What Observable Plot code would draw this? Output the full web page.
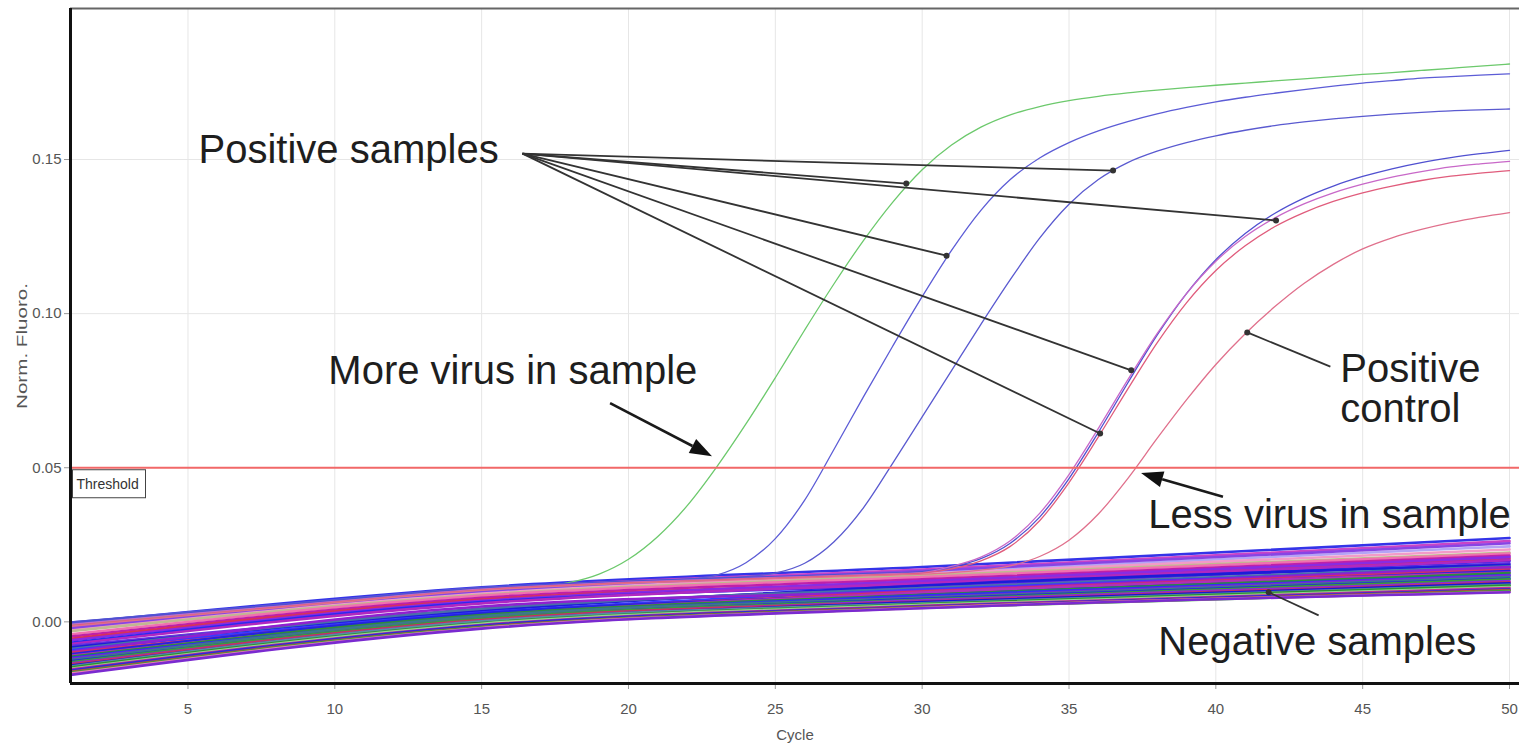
<!DOCTYPE html>
<html><head><meta charset="utf-8">
<script src="https://cdn.jsdelivr.net/npm/d3@7"></script>
<script src="https://cdn.jsdelivr.net/npm/@observablehq/plot@0.6"></script>
<style>
html,body{margin:0;padding:0;background:#fff;}
#chart{width:1519px;height:743px;overflow:hidden;}
</style></head><body><div id="chart"></div>
<script>
// ---------- axis ticks ----------
const xTicks = [5, 10, 15, 20, 25, 30, 35, 40, 45, 50];
const yTicks = [0.00, 0.05, 0.10, 0.15];
const thresholdValue = 0.05;

// ---------- positive samples (values per cycle) ----------
const posCycles = [1,5,10,15,16,17,18,19,20,21,22,23,24,25,26,27,28,29,30,31,32,33,34,35,36,37,38,39,40,41,42,43,44,45,46,47,48,49,50];
const greenSample = [-0.0010,0.0025,0.0068,0.0105,0.0110,0.0116,0.0128,0.0155,0.0203,0.0277,0.0377,0.0502,0.0642,0.0792,0.0947,0.1097,0.1237,0.1362,0.1467,0.1547,0.1605,0.1645,0.1672,0.1691,0.1705,0.1716,0.1725,0.1733,0.1741,0.1748,0.1755,0.1762,0.1769,0.1776,0.1782,0.1789,0.1796,0.1803,0.1810];
const blueSample1 = [0.0000,0.0032,0.0072,0.0112,0.0117,0.0121,0.0125,0.0128,0.0131,0.0134,0.0138,0.0152,0.0192,0.0270,0.0395,0.0560,0.0730,0.0895,0.1055,0.1205,0.1335,0.1435,0.1505,0.1555,0.1593,0.1623,0.1648,0.1669,0.1687,0.1702,0.1715,0.1727,0.1738,0.1748,0.1756,0.1764,0.1769,0.1774,0.1778];
const blueSample2 = [-0.0005,0.0028,0.0070,0.0108,0.0113,0.0118,0.0123,0.0127,0.0131,0.0135,0.0139,0.0143,0.0147,0.0158,0.0190,0.0260,0.0370,0.0515,0.0665,0.0815,0.0965,0.1110,0.1245,0.1355,0.1435,0.1490,0.1527,0.1555,0.1577,0.1595,0.1610,0.1622,0.1632,0.1640,0.1647,0.1653,0.1658,0.1661,0.1664];
const blueSample3 = [0.0000,0.0030,0.0070,0.0110,0.0115,0.0120,0.0124,0.0128,0.0132,0.0135,0.0138,0.0141,0.0144,0.0147,0.0150,0.0153,0.0156,0.0159,0.0163,0.0178,0.0205,0.0255,0.0340,0.0465,0.0615,0.0775,0.0930,0.1065,0.1175,0.1260,0.1325,0.1375,0.1414,0.1445,0.1470,0.1490,0.1506,0.1519,0.1530];
const magentaSample = [-0.0008,0.0026,0.0066,0.0106,0.0112,0.0117,0.0121,0.0125,0.0129,0.0132,0.0135,0.0138,0.0141,0.0144,0.0147,0.0150,0.0153,0.0156,0.0160,0.0180,0.0210,0.0263,0.0352,0.0478,0.0628,0.0785,0.0935,0.1065,0.1170,0.1250,0.1310,0.1356,0.1392,0.1420,0.1443,0.1461,0.1476,0.1486,0.1494];
const redSample = [-0.0012,0.0022,0.0064,0.0104,0.0110,0.0115,0.0119,0.0123,0.0127,0.0130,0.0133,0.0136,0.0139,0.0142,0.0145,0.0148,0.0151,0.0154,0.0158,0.0172,0.0198,0.0245,0.0328,0.0452,0.0600,0.0755,0.0905,0.1035,0.1140,0.1220,0.1282,0.1328,0.1364,0.1392,0.1414,0.1432,0.1446,0.1456,0.1464];
const positiveControl = [-0.0015,0.0020,0.0062,0.0102,0.0108,0.0113,0.0117,0.0121,0.0125,0.0128,0.0131,0.0134,0.0137,0.0140,0.0143,0.0146,0.0149,0.0152,0.0155,0.0160,0.0168,0.0182,0.0212,0.0265,0.0350,0.0465,0.0595,0.0720,0.0835,0.0935,0.1022,0.1098,0.1160,0.1210,0.1246,0.1273,0.1295,0.1313,0.1328];
const positiveNames = ["Sample 1","Sample 2","Sample 3","Sample 4","Sample 5","Sample 6","Positive control"];
const positiveValues = [greenSample, blueSample1, blueSample2, blueSample3, magentaSample, redSample, positiveControl];
const positiveColors = ["#6cc96c","#5c5cd6","#5a5ad0","#5050d0","#c868c8","#e05c7c","#e0708c"];

// ---------- negative samples (values at cycles 1, 15, 30, 50) ----------
const negCycles = [1, 15, 30, 50];
const negAt1  = [-0.0005,-0.0015,-0.0010,-0.0025,-0.0020,-0.0030,-0.0040,-0.0048,-0.0055,-0.0060,-0.0068,-0.0072,-0.0078,-0.0083,-0.0088,-0.0092,-0.0097,-0.0100,-0.0105,-0.0110,-0.0113,-0.0117,-0.0120,-0.0124,-0.0128,-0.0131,-0.0135,-0.0138,-0.0142,-0.0145,-0.0148,-0.0152,-0.0155,-0.0158,-0.0162,-0.0165,-0.0168,-0.0172];
const negAt15 = [0.0112,0.0105,0.0098,0.0092,0.0100,0.0088,0.0085,0.0078,0.0072,0.0068,0.0064,0.0060,0.0040,0.0036,0.0043,0.0030,0.0050,0.0025,0.0028,0.0020,0.0022,0.0016,0.0012,0.0018,0.0008,0.0010,0.0004,0.0006,0.0000,0.0002,-0.0004,-0.0006,-0.0010,-0.0012,-0.0016,-0.0018,-0.0020,-0.0022];
const negAt30 = [0.0178,0.0170,0.0160,0.0155,0.0165,0.0150,0.0145,0.0138,0.0128,0.0132,0.0120,0.0125,0.0115,0.0118,0.0110,0.0105,0.0100,0.0098,0.0092,0.0095,0.0088,0.0085,0.0080,0.0078,0.0075,0.0072,0.0070,0.0066,0.0064,0.0060,0.0058,0.0055,0.0052,0.0050,0.0048,0.0046,0.0045,0.0044];
const negAt50 = [0.0272,0.0262,0.0245,0.0235,0.0255,0.0225,0.0222,0.0215,0.0205,0.0210,0.0198,0.0200,0.0190,0.0185,0.0180,0.0175,0.0178,0.0170,0.0165,0.0160,0.0158,0.0152,0.0150,0.0145,0.0140,0.0138,0.0132,0.0128,0.0125,0.0120,0.0118,0.0113,0.0110,0.0106,0.0103,0.0100,0.0097,0.0096];
const negColors = ["#3434e8","#c844c8","#b4a4f4","#f29ac8","#8844e4","#c0b890",
  "#f070b0","#c020a8","#d83058","#8a2be2","#2a2af0","#b028c0","#6a30e0","#1c1cd8","#4a70a8","#3838ff",
  "#9020d0","#d03068","#2424e0","#b030b8","#2e8b3e","#3030f0","#7a28d8","#3a7a8a","#2020e8","#3c9a3c",
  "#8e2ad6","#c83060","#1818d0","#5a8aa8","#2f8f2f","#90d890","#c02a9a","#2a2ad8","#b05040","#38a038",
  "#f080b0","#7a2ad0"];

// ---------- annotations (anchored in cycle / fluorescence units) ----------
const annotationLabels = ["Positive samples","More virus in sample","Positive\ncontrol","Less virus in sample","Negative samples"];
const annotationCycle = [5.36, 9.78, 44.24, 37.7, 38.04];
const annotationValue = [0.149, 0.0773, 0.0647, 0.0306, -0.0109];

const fanOrigin = {cycle: 16.39, value: 0.1519};
const fanTargetCycle = [36.5, 29.46, 42.05, 30.83, 37.12, 36.06];
const fanTargetValue = [0.1464, 0.1422, 0.1302, 0.1188, 0.0816, 0.0611];

const pointerFromCycle = [43.9, 43.5];
const pointerFromValue = [0.0828, 0.0021];
const pointerToCycle = [41.07, 41.8];
const pointerToValue = [0.0939, 0.0096];

const arrowFromCycle = [19.39, 40.26];
const arrowFromValue = [0.0708, 0.0404];
const arrowToCycle = [22.86, 37.47];
const arrowToValue = [0.0536, 0.0481];

// ---------- build tables ----------
const negRows = [];
negAt1.forEach((_, i) => {
  const vals = [negAt1[i], negAt15[i], negAt30[i], negAt50[i]];
  negCycles.forEach((c, j) => negRows.push({id: i, cycle: c, value: vals[j], color: negColors[i]}));
});
const posRows = positiveNames.map((name, k) => posCycles.map((c, j) => ({name, cycle: c, value: positiveValues[k][j]})));
const annotations = annotationLabels.map((t, i) => ({label: t, cycle: annotationCycle[i], value: annotationValue[i]}));
const fan = fanTargetCycle.map((c, i) => ({x1: fanOrigin.cycle, y1: fanOrigin.value, x2: c, y2: fanTargetValue[i]}));
const pointers = pointerFromCycle.map((c, i) => ({x1: c, y1: pointerFromValue[i], x2: pointerToCycle[i], y2: pointerToValue[i]}));
const bigArrows = arrowFromCycle.map((c, i) => ({x1: c, y1: arrowFromValue[i], x2: arrowToCycle[i], y2: arrowToValue[i]}));

// custom mark: arrows with filled triangular heads
function filledArrows(index, scales) {
  const g = d3.create("svg:g");
  for (const a of bigArrows) {
    const x1 = scales.x(a.x1), y1 = scales.y(a.y1), x2 = scales.x(a.x2), y2 = scales.y(a.y2);
    const ang = Math.atan2(y2 - y1, x2 - x1);
    const L = 22, W = 8;
    const bx = x2 - L * Math.cos(ang), by = y2 - L * Math.sin(ang);
    const px = -Math.sin(ang) * W, py = Math.cos(ang) * W;
    g.append("line").attr("x1", x1).attr("y1", y1).attr("x2", bx).attr("y2", by)
      .attr("stroke", "#1a1a1a").attr("stroke-width", 2.6);
    g.append("path").attr("d", `M${x2},${y2}L${bx + px},${by + py}L${bx - px},${by - py}Z`).attr("fill", "#111");
  }
  return g.node();
}
// custom mark: box of the threshold label
function thresholdBox(index, scales) {
  const x0 = scales.x(1), y0 = scales.y(thresholdValue);
  return d3.create("svg:rect").attr("x", x0 + 2.5).attr("y", y0 + 2.5).attr("width", 73).attr("height", 28)
    .attr("fill", "#fff").attr("stroke", "#444").attr("stroke-width", 1).node();
}

const chart = Plot.plot({
  width: 1519, height: 743,
  marginLeft: 70, marginRight: 0, marginTop: 8, marginBottom: 60,
  style: {fontFamily: "'Liberation Sans', Arial, sans-serif", background: "#fff", color: "#555"},
  x: {domain: [1, 50.34], label: null},
  y: {domain: [-0.02, 0.199], label: null},
  marks: [
    Plot.gridX(xTicks, {stroke: "#e6e6e6", strokeOpacity: 1}),
    Plot.gridY(yTicks.filter(v => v > 0), {stroke: "#e6e6e6", strokeOpacity: 1}),
    Plot.axisX(xTicks, {tickSize: 6, tickPadding: 14, stroke: "#9a9a9a", fill: "#555", fontSize: 15, tickFormat: d => String(d), label: null}),
    Plot.axisY(yTicks, {tickSize: 6, tickPadding: 3, stroke: "#9a9a9a", fill: "#555", fontSize: 15, tickFormat: d3.format(".2f"), label: null}),
    Plot.text(["Cycle"], {frameAnchor: "bottom", dy: 56, lineAnchor: "bottom", fontSize: 15, fill: "#555"}),
    Plot.text(["Norm. Fluoro."], {frameAnchor: "left", dx: -48, rotate: -90, textAnchor: "middle", fontSize: 15, fill: "#555"}),
    // negative samples band
    Plot.line(negRows, {x: "cycle", y: "value", z: "id", stroke: "color", strokeWidth: 2.6, curve: "monotone-x"}),
    // positive samples
    ...posRows.map((rows, k) => Plot.line(rows, {x: "cycle", y: "value", stroke: positiveColors[k], strokeWidth: 1.3, curve: "monotone-x"})),
    // threshold
    Plot.ruleY([thresholdValue], {stroke: "#f26868", strokeWidth: 2.2}),
    thresholdBox,
    Plot.text(["Threshold"], {x: 1, y: thresholdValue, dx: 6, dy: 17, textAnchor: "start", fontSize: 14, fill: "#333"}),
    // frame
    Plot.ruleY([0.199], {stroke: "#666", strokeWidth: 2}),
    Plot.ruleX([1], {stroke: "#111", strokeWidth: 3}),
    Plot.ruleY([-0.02], {stroke: "#111", strokeWidth: 3}),
    // annotation lines
    Plot.link(fan, {x1: "x1", y1: "y1", x2: "x2", y2: "y2", stroke: "#333", strokeWidth: 1.8, markerEnd: "dot"}),
    Plot.link(pointers, {x1: "x1", y1: "y1", x2: "x2", y2: "y2", stroke: "#333", strokeWidth: 1.8, markerEnd: "dot"}),
    filledArrows,
    Plot.text(annotations, {x: "cycle", y: "value", text: "label", textAnchor: "start", lineAnchor: "bottom", lineHeight: 1, fontSize: 40, fill: "#1e1e1e"})
  ]
});
// stretch the y-axis title to the length it has in the reference
d3.select(chart).selectAll("text").filter(function () { return this.textContent === "Norm. Fluoro."; })
  .attr("textLength", 126).attr("lengthAdjust", "spacingAndGlyphs");
document.getElementById("chart").appendChild(chart);
</script>
</body></html>
